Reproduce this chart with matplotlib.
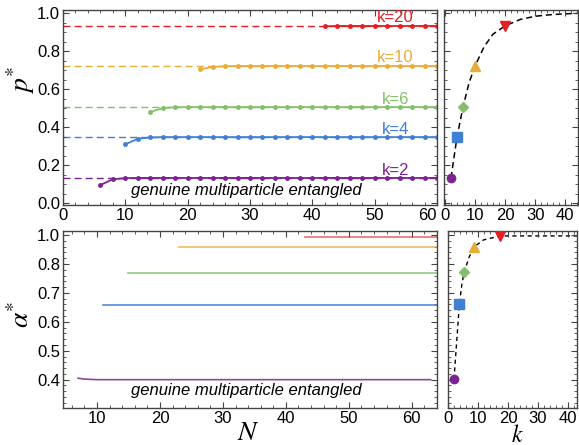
import numpy as np
import matplotlib
matplotlib.use("Agg")
import matplotlib.pyplot as plt
from matplotlib.ticker import MultipleLocator, FixedLocator, NullFormatter

plt.rcParams['font.family'] = ['Liberation Sans', 'DejaVu Sans']
plt.rcParams['mathtext.fontset'] = 'stix'

# ---------------- data ----------------
k_labels = ['k=2', 'k=4', 'k=6', 'k=10', 'k=20']
colors = ['#7b2390', '#3f7fd6', '#84c06a', '#e6ad3a', '#e41e25']
markers = ['o', 's', 'D', '^', 'v']
k_vals = [2, 4, 6, 10, 20]

# asymptotic p* values (dashed lines / right-panel markers)
p_inf = [0.132, 0.347, 0.505, 0.721, 0.932]

# p*(N) curves
N_k2 = [6, 8, 10, 12, 14, 16, 18, 20, 22, 24, 26, 28, 30, 32, 34, 36, 38, 40,
        42, 44, 46, 48, 50, 52, 54, 56, 58, 60]
p_k2 = [0.095, 0.125, 0.131] + [0.132] * 25
N_k4 = [10, 12, 14, 16, 18, 20, 22, 24, 26, 28, 30, 32, 34, 36, 38, 40,
        42, 44, 46, 48, 50, 52, 54, 56, 58, 60]
p_k4 = [0.309, 0.338, 0.345] + [0.347] * 23
N_k6 = [14, 16, 18, 20, 22, 24, 26, 28, 30, 32, 34, 36, 38, 40,
        42, 44, 46, 48, 50, 52, 54, 56, 58, 60]
p_k6 = [0.479, 0.500, 0.504] + [0.505] * 21
N_k10 = [22, 24, 26, 28, 30, 32, 34, 36, 38, 40,
         42, 44, 46, 48, 50, 52, 54, 56, 58, 60]
p_k10 = [0.704, 0.716, 0.720] + [0.721] * 17
N_k20 = [42, 44, 46, 48, 50, 52, 54, 56, 58, 60]
p_k20 = [0.930] + [0.932] * 9
N_p = [N_k2, N_k4, N_k6, N_k10, N_k20]
p_N = [p_k2, p_k4, p_k6, p_k10, p_k20]

# p*(k) dashed curve (top right)
k_curve_p = [2, 4, 6, 8, 10, 13, 16, 20, 25, 30, 35, 40, 44]
p_curve = [0.132, 0.347, 0.505, 0.632, 0.721, 0.822, 0.889, 0.932,
           0.966, 0.983, 0.991, 0.996, 0.998]

# alpha*(N) curves (bottom left)
N_a2 = [7, 8, 9, 10, 12, 63]
a_k2 = [0.405, 0.402, 0.401, 0.400, 0.400, 0.400]
N_a4 = [11, 64]
a_k4 = [0.659, 0.659]
N_a6 = [15, 64]
a_k6 = [0.770, 0.770]
N_a10 = [23, 64]
a_k10 = [0.857, 0.857]
N_a20 = [43, 64]
a_k20 = [0.894, 0.894]
N_a = [N_a2, N_a4, N_a6, N_a10, N_a20]
a_N = [a_k2, a_k4, a_k6, a_k10, a_k20]

# alpha*(k) markers and dashed curve (bottom right)
k_alpha = [2, 3.8, 5.4, 8.8, 17.3]
a_mark = [0.402, 0.661, 0.773, 0.860, 0.895]
k_curve_a = [2, 2.9, 3.8, 4.6, 5.4, 7.1, 8.8, 11.8, 17.3, 43]
a_curve = [0.402, 0.532, 0.661, 0.728, 0.773, 0.825, 0.860, 0.883, 0.897, 0.897]

p_ticks = [0.0, 0.2, 0.4, 0.6, 0.8, 1.0]
p_ticklabels = ['0.0', '0.2', '0.4', '0.6', '0.8', '1.0']
N_ticks_top = [0, 10, 20, 30, 40, 50, 60]
N_ticklabels_top = ['0', '10', '20', '30', '40', '50', '60']
alpha_ticks = [0.4, 0.5, 0.6, 0.7, 0.8, 0.9]
alpha_ticklabels = ['0.4', '0.5', '0.6', '0.7', '0.8', '1.0']

# ---------------- figure ----------------
W, H = 579, 445
fig = plt.figure(figsize=(W / 100, H / 100), dpi=100)


def box(x0, y0, x1, y1):
    return [x0 / W, 1 - y1 / H, (x1 - x0) / W, (y1 - y0) / H]


ax1 = fig.add_axes(box(63, 10, 437, 205.5))
ax2 = fig.add_axes(box(444, 10, 578, 205.5))
ax3 = fig.add_axes(box(63, 231, 437, 408))
ax4 = fig.add_axes(box(448, 231, 577, 408))

spine_col = '#444444'
for ax in (ax1, ax2, ax3, ax4):
    for s in ax.spines.values():
        s.set_color(spine_col)
        s.set_linewidth(1.0)
    ax.tick_params(which='both', direction='in', top=True, right=True,
                   colors=spine_col, labelcolor='black', labelsize=12,
                   pad=2)
    ax.tick_params(which='major', length=4, width=0.8)
    ax.tick_params(which='minor', length=2, width=0.6)

dash = (0, (5, 3))

# top-left
for i in range(5):
    ax1.axhline(p_inf[i], color=colors[i], ls=dash, lw=1.0, zorder=1)
    ax1.plot(N_p[i], p_N[i], color=colors[i], lw=1.3, marker='o', ms=2.5,
             zorder=2)
ax1.set_xlim(0, 60)
ax1.set_ylim(-0.013, 1.016)
ax1.xaxis.set_major_locator(FixedLocator(N_ticks_top))
ax1.set_xticklabels(N_ticklabels_top)
ax1.get_xticklabels()[-1].set_ha('right')
ax1.xaxis.set_minor_locator(MultipleLocator(2))
ax1.yaxis.set_major_locator(FixedLocator(p_ticks))
ax1.set_yticklabels(p_ticklabels)
ax1.yaxis.set_minor_locator(MultipleLocator(0.05))
label_y_off = [0.04, 0.04, 0.04, 0.047, 0.042]
for i in range(5):
    ax1.text(53.3, p_inf[i] + label_y_off[i], k_labels[i], color=colors[i],
             fontsize=12, ha='center', va='center')
ax1.text(29.4, 0.068, 'genuine multiparticle entangled', fontsize=12,
         style='italic', ha='center', va='center')

# top-right
ax2.plot(k_curve_p, p_curve, color='black', ls=(0, (4, 2.5)), lw=1.1, zorder=1)
msz = [6, 6.5, 5.5, 7, 7]
for i in range(5):
    ax2.plot(k_vals[i], p_inf[i], marker=markers[i], color=colors[i],
             ms=msz[i], ls='none', zorder=3)
ax2.set_xlim(-0.33, 44.3)
ax2.set_ylim(-0.013, 1.016)
ax2.xaxis.set_major_locator(MultipleLocator(10))
ax2.xaxis.set_minor_locator(MultipleLocator(2))
ax2.yaxis.set_major_locator(FixedLocator(p_ticks))
ax2.yaxis.set_minor_locator(MultipleLocator(0.05))
ax2.yaxis.set_major_formatter(NullFormatter())

# bottom-left
line_alpha = [0.85, 0.9, 0.85, 0.8, 0.65]
for i in range(5):
    ax3.plot(N_a[i], a_N[i], color=colors[i], lw=1.2, alpha=line_alpha[i])
ax3.set_xlim(4.6, 64)
ax3.set_ylim(0.302, 0.914)
ax3.xaxis.set_major_locator(MultipleLocator(10))
ax3.xaxis.set_minor_locator(MultipleLocator(2))
ax3.yaxis.set_major_locator(FixedLocator(alpha_ticks))
ax3.set_yticklabels(alpha_ticklabels)
ax3.yaxis.set_minor_locator(MultipleLocator(0.02))
ax3.text(33.7, 0.362, 'genuine multiparticle entangled', fontsize=12,
         style='italic', ha='center', va='center')

# bottom-right
ax4.plot(k_curve_a, a_curve, color='black', ls=(0, (3, 2.5)), lw=1.0, zorder=1)
for i in range(5):
    ax4.plot(k_alpha[i], a_mark[i], marker=markers[i], color=colors[i],
             ms=msz[i], ls='none', zorder=3)
ax4.set_xlim(0, 43)
ax4.set_ylim(0.302, 0.914)
ax4.xaxis.set_major_locator(MultipleLocator(10))
ax4.xaxis.set_minor_locator(MultipleLocator(2))
ax4.yaxis.set_major_locator(FixedLocator(alpha_ticks))
ax4.yaxis.set_minor_locator(MultipleLocator(0.02))
ax4.yaxis.set_major_formatter(NullFormatter())

# axis labels
fig.text(21 / W, 1 - 80 / H, r'$p^{*}$', fontsize=20, rotation=90,
         ha='center', va='center')
fig.text(22 / W, 1 - 314 / H, r'$\alpha^{*}$', fontsize=20, rotation=90,
         ha='center', va='center')
fig.text(248 / W, 1 - 440 / H, r'$N$', fontsize=20, ha='center',
         va='baseline')
fig.text(517 / W, 1 - 441.5 / H, r'$k$', fontsize=17, ha='center',
         va='baseline')

fig.savefig('out.png', dpi=100)
